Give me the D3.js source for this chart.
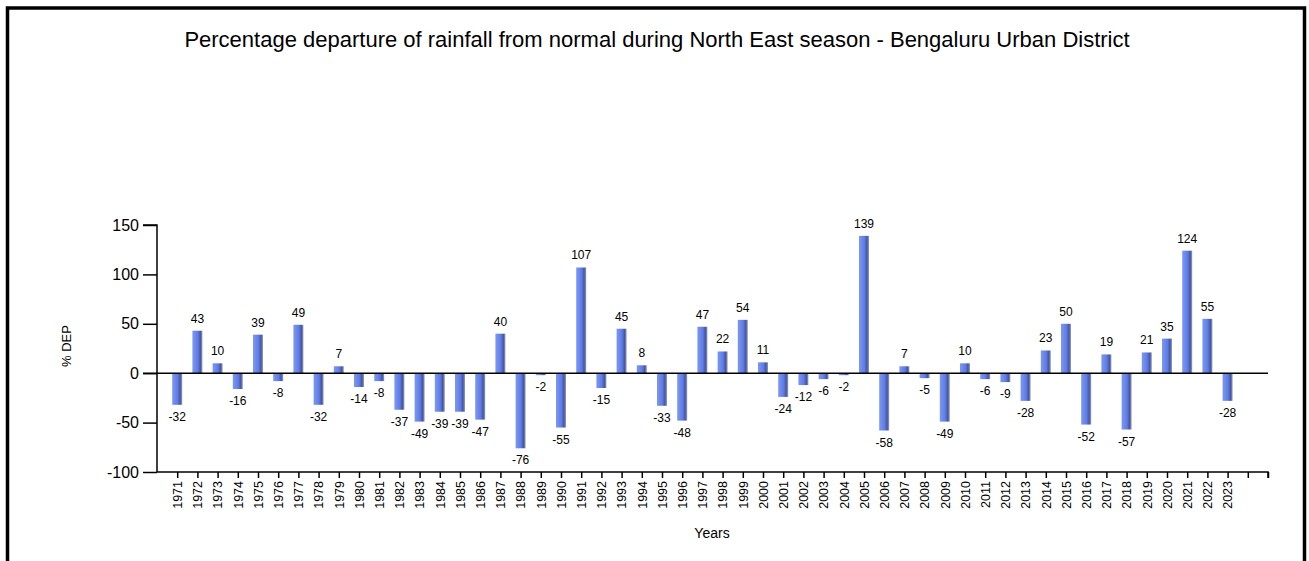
<!DOCTYPE html>
<html lang="en">
  <head>
    <meta charset="utf-8">
    <title>NE season rainfall departure</title>
    <script src="https://d3js.org/d3.v7.js"></script>
    <style>
      body { margin: 0; background: #fff; }
      text { font-family: Arial, "Liberation Sans", sans-serif; fill: #000; }
    </style>
  </head>
  <body>
    <script>

  // size of the page
  var w = 1309;
  var h = 561;

  // data
  var years = d3.range(1971, 2024);
  var departure = [
    -32, 43, 10, -16, 39, -8, 49, -32, 7, -14,
    -8, -37, -49, -39, -39, -47, 40, -76, -2, -55,
    107, -15, 45, 8, -33, -48, 47, 22, 54, 11,
    -24, -12, -6, -2, 139, -58, 7, -5, -49, 10,
    -6, -9, -28, 23, 50, -52, 19, -57, 21, 35,
    124, 55, -28
  ];
  var yTicks = [-100, -50, 0, 50, 100, 150];

  var data = years.map((y, i) => ({ year: y, value: departure[i] }));

  // plot area
  var plotLeft = 157, plotRight = 1268, plotTop = 225, plotBottom = 472;

  var xScale = d3.scaleLinear()
    .domain([1970, 2025])
    .range([plotLeft, plotRight]);

  var yScale = d3.scaleLinear()
    .domain([-100, 150])
    .range([plotBottom, plotTop]);

  var svg = d3.select("body")
    .append("svg")
    .attr("width", w)
    .attr("height", h);

  // bar shading
  var grad = svg.append("defs").append("linearGradient")
    .attr("id", "bar")
    .attr("x1", "0%").attr("x2", "100%");
  grad.append("stop").attr("offset", "0%").attr("stop-color", "#7c98f4");
  grad.append("stop").attr("offset", "55%").attr("stop-color", "#5f7ce6");
  grad.append("stop").attr("offset", "80%").attr("stop-color", "#44569e");
  grad.append("stop").attr("offset", "100%").attr("stop-color", "#9aa0b4");

  // frame
  svg.append("rect")
    .attr("x", 7.5).attr("y", 8)
    .attr("width", 1297).attr("height", 600)
    .attr("fill", "none")
    .attr("stroke", "#000")
    .attr("stroke-width", 3.5);

  // title
  svg.append("text")
    .attr("x", 657).attr("y", 47)
    .attr("text-anchor", "middle")
    .style("font-size", "22px")
    .text("Percentage departure of rainfall from normal during North East season - Bengaluru Urban District");

  // y axis (plain hyphen for negatives, like the original)
  var yAxis = svg.append("g")
    .attr("transform", `translate(${plotLeft},0)`)
    .call(d3.axisLeft(yScale)
      .tickValues(yTicks)
      .tickFormat(d => String(d))
      .tickSize(14)
      .tickPadding(4));
  yAxis.selectAll("text").style("font-size", "16px");
  yAxis.select(".domain").attr("d", `M-14,${plotTop}H0V${plotBottom}`).attr("stroke-width", 1.5);
  yAxis.selectAll("line").attr("stroke-width", 1.5);

  // x axis
  var xAxis = svg.append("g")
    .attr("transform", `translate(0,${plotBottom})`)
    .call(d3.axisBottom(xScale)
      .tickValues(d3.range(1971, 2026))
      .tickSize(6)
      .tickFormat(d => d <= 2023 ? d : ""));
  xAxis.select(".domain").attr("d", `M${plotLeft},0H${plotRight}V6`).attr("stroke-width", 1.5);
  xAxis.selectAll("line").attr("stroke-width", 1.5);
  xAxis.selectAll("text")
    .style("font-size", "12.5px")
    .attr("text-anchor", "end")
    .attr("transform", "rotate(-90)")
    .attr("x", -9)
    .attr("y", 0)
    .attr("dy", "0.35em");

  // bars
  var bw = 10;
  svg.selectAll("rect.bar")
    .data(data)
    .enter()
    .append("rect")
    .attr("class", "bar")
    .attr("x", d => xScale(d.year) - bw / 2)
    .attr("y", d => yScale(Math.max(0, d.value)))
    .attr("width", bw)
    .attr("height", d => Math.abs(yScale(d.value) - yScale(0)))
    .attr("fill", "url(#bar)");

  // zero line
  svg.append("line")
    .attr("x1", plotLeft - 14).attr("x2", plotRight)
    .attr("y1", yScale(0)).attr("y2", yScale(0))
    .attr("stroke", "#000")
    .attr("stroke-width", 1.5);

  // value labels
  svg.selectAll("text.val")
    .data(data)
    .enter()
    .append("text")
    .attr("class", "val")
    .attr("x", d => xScale(d.year))
    .attr("y", d => d.value >= 0 ? yScale(d.value) - 8 : yScale(d.value) + 16)
    .attr("text-anchor", "middle")
    .style("font-size", "12px")
    .text(d => d.value);

  // axis titles
  svg.append("text")
    .attr("transform", "translate(71,346) rotate(-90)")
    .attr("text-anchor", "middle")
    .style("font-size", "13px")
    .text("% DEP");

  svg.append("text")
    .attr("x", 712).attr("y", 538)
    .attr("text-anchor", "middle")
    .style("font-size", "14px")
    .text("Years");

    </script>
  </body>
</html>
